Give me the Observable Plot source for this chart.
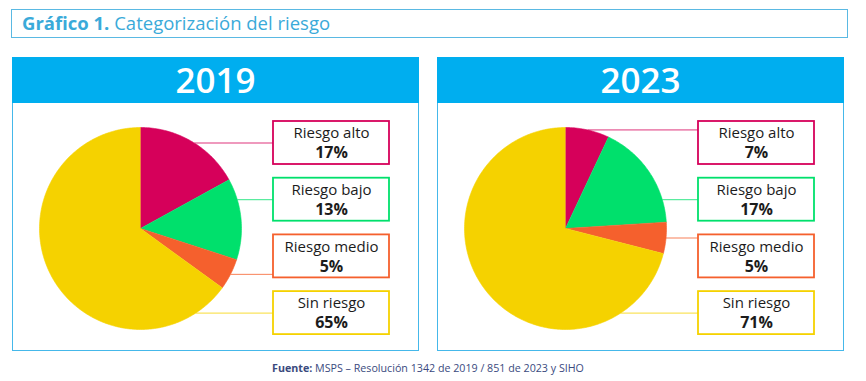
<!DOCTYPE html>
<html>
<head>
<meta charset="utf-8">
<script src="https://cdn.jsdelivr.net/npm/d3@7"></script>
<script src="https://cdn.jsdelivr.net/npm/@observablehq/plot@0.6"></script>
<style>
  html, body { margin: 0; padding: 0; background: #fff; }
  body { width: 866px; height: 381px; position: relative; overflow: hidden; font-family: "Open Sans", sans-serif; }
  #title { position: absolute; left: 11px; top: 9px; width: 837px; height: 29px; box-sizing: border-box;
           border: 1.5px solid #5AB9E3; color: #3AAAD9; font-size: 18.5px; line-height: 25px; padding-left: 10px; }
  .panel { position: absolute; top: 57px; width: 407px; height: 294px; }
  .head { position: absolute; left: 0; top: 0; width: 407px; height: 46px; background: #00AEEF; color: #fff;
          font-weight: 600; font-size: 35px; line-height: 46px; text-align: center; }
  .body { position: absolute; left: 0; top: 46px; width: 407px; height: 248px; box-sizing: border-box;
          border: 1.5px solid #45B8EA; border-top: none; }
  .plotwrap { position: absolute; left: 0; top: 46px; }
  #foot { position: absolute; left: 0; width: 856px; top: 361px; text-align: center; font-size: 10.7px; color: #3A4A7E; }
</style>
</head>
<body>
<div id="title"><b>Gráfico 1.</b> Categorización del riesgo</div>
<div class="panel" id="p0" style="left:12px"><div class="head"></div><div class="body"></div><div class="plotwrap"></div></div>
<div class="panel" id="p1" style="left:437px"><div class="head"></div><div class="body"></div><div class="plotwrap"></div></div>
<div id="foot"><b>Fuente:</b> MSPS – Resolución 1342 de 2019 / 851 de 2023 y SIHO</div>
<script>
// ---- data ----
const years = ["2019", "2023"];
const categories = ["Riesgo alto", "Riesgo bajo", "Riesgo medio", "Sin riesgo"];
const values2019 = [17, 13, 5, 65];
const values2023 = [7, 17, 5, 71];

// ---- style / layout ----
const colors = ["#D6005A", "#00E06C", "#F5602D", "#F5D200"];
const W = 407, H = 248;
const cx = 128, cy = 125, R = 101;
const boxX1 = 261, boxX2 = 377, boxTop0 = 18, boxStep = 56.7, boxH = 43;

function panel(values) {
  const arcs = d3.pie().sort(null).value(d => d)(values);
  const marks = [];
  const boxes = [];
  const leaders = [];
  arcs.forEach((a, i) => {
    const n = Math.max(2, Math.ceil((a.endAngle - a.startAngle) / (Math.PI / 180)));
    const pts = [{x: cx, y: cy}];
    for (let k = 0; k <= n; k++) {
      const t = a.startAngle + (a.endAngle - a.startAngle) * k / n;
      pts.push({x: cx + R * Math.sin(t), y: cy - R * Math.cos(t)});
    }
    marks.push(Plot.line(pts, {x: "x", y: "y", fill: colors[i], stroke: colors[i], strokeWidth: 0.6, curve: "linear"}));

    const top = boxTop0 + i * boxStep;
    const mid = top + boxH / 2;
    const a0 = Math.min(a.startAngle, Math.PI), a1 = Math.min(a.endAngle, Math.PI);
    const yMin = cy - R * Math.cos(a0), yMax = cy - R * Math.cos(a1);
    let ly = mid;
    if (mid < yMin || mid > yMax) ly = cy - R * Math.cos((a0 + a1) / 2);
    const lx = cx + Math.sqrt(Math.max(0, R * R - (ly - cy) ** 2));
    leaders.push({x1: lx, x2: boxX1, y: ly, c: colors[i]});
    boxes.push({x1: boxX1, x2: boxX2, y1: top, y2: top + boxH, c: colors[i],
                label: categories[i], pct: values[i] + "%", xc: (boxX1 + boxX2) / 2});
  });
  return Plot.plot({
    width: W, height: H, margin: 0,
    x: {domain: [0, W], range: [0, W], axis: null},
    y: {domain: [0, H], range: [0, H], axis: null},
    color: {type: "identity"},
    style: {background: "transparent", fontFamily: "Open Sans", overflow: "visible"},
    marks: [
      ...marks,
      Plot.link(leaders, {x1: "x1", x2: "x2", y1: "y", y2: "y", stroke: "c", strokeWidth: 1, strokeOpacity: 0.8}),
      Plot.rect(boxes, {x1: "x1", x2: "x2", y1: "y1", y2: "y2", fill: "white", stroke: "c", strokeWidth: 1.8}),
      Plot.text(boxes, {x: "xc", y: d => d.y1 + 12, text: "label", fontSize: 15, fill: "#1c1c1c"}),
      Plot.text(boxes, {x: "xc", y: d => d.y1 + 31.5, text: "pct", fontSize: 16, fontWeight: "bold", fill: "#1c1c1c"})
    ]
  });
}

[values2019, values2023].forEach((vals, i) => {
  const p = document.getElementById("p" + i);
  p.querySelector(".head").textContent = years[i];
  p.querySelector(".plotwrap").appendChild(panel(vals));
});
</script>
</body>
</html>
